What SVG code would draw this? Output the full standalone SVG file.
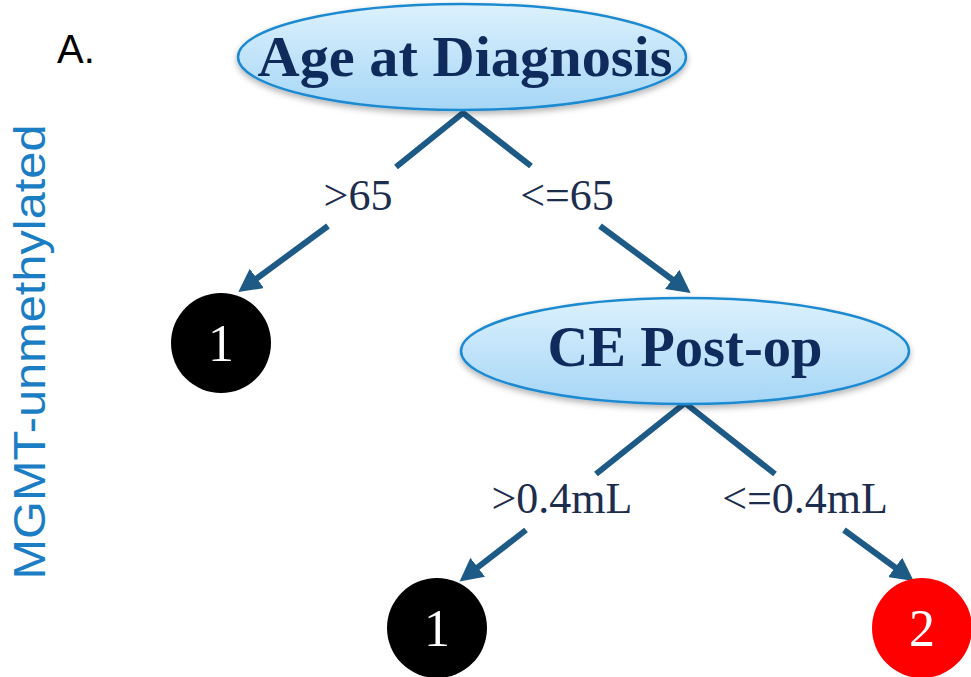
<svg xmlns="http://www.w3.org/2000/svg" width="971" height="677" viewBox="0 0 971 677">
<defs>
<linearGradient id="g" x1="0" y1="0" x2="0" y2="1">
<stop offset="0" stop-color="#dcf1fd"/>
<stop offset="1" stop-color="#a6d6f6"/>
</linearGradient>
<filter id="sh" x="-10%" y="-20%" width="120%" height="150%">
<feDropShadow dx="0" dy="3" stdDeviation="3" flood-color="#000" flood-opacity="0.3"/>
</filter>
<marker id="ah" markerUnits="userSpaceOnUse" markerWidth="24" markerHeight="24" refX="6" refY="12" orient="auto" viewBox="0 0 24 24">
<path d="M0,0 L23,12 L0,24 z" fill="#1d5a86"/>
</marker>
</defs>
<style>
.ell{fill:url(#g);stroke:#1f8ad1;stroke-width:2.5;filter:url(#sh)}
.nt{font-family:"Liberation Serif",serif;font-weight:bold;fill:#0f2b5c;text-anchor:middle}
.lbl{font-family:"Liberation Serif",serif;font-size:44px;fill:#1c2d4d;text-anchor:middle}
.ln{stroke:#1d5a86;stroke-width:6;fill:none}
.leaf{font-family:"Liberation Serif",serif;font-size:52px;fill:#fff;text-anchor:middle}
</style>
<rect width="971" height="677" fill="#fff"/>
<text x="57" y="63" font-family="Liberation Sans, sans-serif" font-size="40" fill="#000">A.</text>
<text transform="translate(45,352) rotate(-90)" font-family="Liberation Sans, sans-serif" font-size="45" fill="#1b7ec4" text-anchor="middle" textLength="455" lengthAdjust="spacingAndGlyphs">MGMT-unmethylated</text>
<g id="connectors">
<polyline class="ln" points="396,167 463,113 531,166"/>
<line class="ln" x1="328" y1="226" x2="252" y2="282" marker-end="url(#ah)"/>
<line class="ln" x1="600" y1="226" x2="677" y2="283" marker-end="url(#ah)"/>
<polyline class="ln" points="596,474 685,403 775,474"/>
<line class="ln" x1="526" y1="530" x2="473" y2="571" marker-end="url(#ah)"/>
<line class="ln" x1="844" y1="530" x2="900" y2="571" marker-end="url(#ah)"/>
<text class="lbl" x="358" y="210">&gt;65</text>
<text class="lbl" x="567" y="210">&lt;=65</text>
<text class="lbl" x="562" y="513">&gt;0.4mL</text>
<text class="lbl" x="805" y="513">&lt;=0.4mL</text>
</g>
<g id="age">
<ellipse class="ell" cx="462" cy="57" rx="224" ry="53"/>
<text class="nt" x="465" y="76" font-size="58" textLength="415" lengthAdjust="spacingAndGlyphs">Age at Diagnosis</text>
</g>
<g id="ce">
<ellipse class="ell" cx="685" cy="351" rx="224" ry="53"/>
<text class="nt" x="685" y="366" font-size="56" textLength="275" lengthAdjust="spacingAndGlyphs">CE Post-op</text>
</g>
<g id="leaf1">
<circle cx="221" cy="343" r="50" fill="#000"/>
<text class="leaf" x="221" y="361">1</text>
</g>
<g id="leaf2">
<circle cx="437" cy="628" r="50" fill="#000"/>
<text class="leaf" x="437" y="646">1</text>
</g>
<g id="leaf3">
<circle cx="922" cy="628" r="50" fill="#ff0000"/>
<text class="leaf" x="922" y="646">2</text>
</g>
</svg>
